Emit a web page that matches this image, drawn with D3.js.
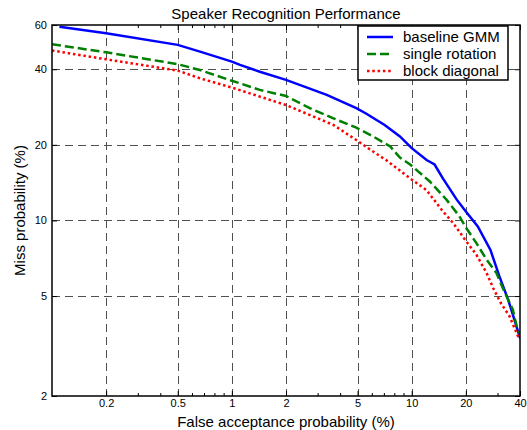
<!DOCTYPE html>
<html>
<head>
<meta charset="utf-8">
<script src="https://cdn.jsdelivr.net/npm/d3@7"></script>
<style>
  body { margin: 0; background: #fff; }
  text { font-family: "Liberation Sans", Arial, sans-serif; }
</style>
</head>
<body>
<svg id="chart" width="527" height="430"></svg>
<script>
// DET curves (false acceptance %, miss %)
const baselineFa = [0.11, 0.2, 0.5, 0.665, 1.0, 1.11, 1.43, 2.0, 3.37, 4.92, 5.6, 7.07, 8.6, 10, 12.1, 13.4, 14.9, 17.8, 20.1, 23.3, 27.4, 30.7, 34.4, 38.7, 40];
const baselineMiss = [59.1, 55.6, 50.0, 47.0, 42.9, 41.6, 39.1, 36.3, 31.6, 28.0, 26.6, 24.0, 21.6, 19.4, 17.4, 16.7, 14.7, 12.1, 10.8, 9.46, 7.63, 6.0, 4.83, 3.68, 3.4];

const rotationFa = [0.1, 0.2, 0.5, 0.665, 1.0, 1.43, 2.0, 2.71, 3.67, 4.92, 6.1, 7.6, 8.6, 9.8, 12.6, 15.6, 18.4, 20.1, 22.9, 26.1, 29.6, 33.0, 36.5, 38.7, 40];
const rotationMiss = [50.3, 46.7, 41.9, 39.7, 36.0, 33.1, 31.3, 28.0, 25.5, 23.4, 21.6, 19.7, 17.8, 16.7, 14.3, 12.1, 10.4, 9.33, 8.12, 6.97, 6.17, 5.14, 4.41, 3.68, 3.55];

const blockFa = [0.1, 0.2, 0.5, 0.665, 1.0, 2.0, 2.71, 3.67, 4.92, 6.1, 7.2, 9.8, 12.1, 14.7, 17.0, 19.8, 22.9, 26.1, 28.4, 31.3, 35, 38.7, 40];
const blockMiss = [47.5, 43.8, 39.5, 36.8, 33.8, 28.8, 26.3, 24.0, 20.9, 18.8, 17.4, 14.7, 13.2, 11.0, 9.76, 8.38, 7.3, 6.17, 5.37, 4.69, 4.15, 3.5, 3.35];

const seriesNames = ['baseline GMM', 'single rotation', 'block diagonal'];
const xTicks = [0.2, 0.5, 1, 2, 5, 10, 20, 40];
const xMinorTicks = [0.3, 0.4, 0.6, 0.7, 0.8, 0.9, 3, 4, 6, 7, 8, 9, 30];
const yTicks = [2, 5, 10, 20, 40, 60];

const margin = { left: 52, right: 7, top: 25, bottom: 34 };
const width = 527, height = 430;
const svg = d3.select('#chart');

const x = d3.scaleLog().domain([0.1, 40]).range([margin.left, width - margin.right]);
const y = d3.scaleLog().domain([2, 60]).range([height - margin.bottom, margin.top]);

const series = [
  { name: seriesNames[0], fa: baselineFa, miss: baselineMiss, color: '#0000ff', dash: null },
  { name: seriesNames[1], fa: rotationFa, miss: rotationMiss, color: '#008000', dash: '9,4' },
  { name: seriesNames[2], fa: blockFa, miss: blockMiss, color: '#ff0000', dash: '2.5,2.8' }
];

// dashed grid
const grid = svg.append('g').attr('stroke', '#505050').attr('stroke-width', 1)
  .attr('stroke-dasharray', '8,5');
grid.selectAll('.vg').data(xTicks.filter(d => d < 40)).enter().append('line')
  .attr('x1', d => Math.round(x(d)) + 0.5).attr('x2', d => Math.round(x(d)) + 0.5)
  .attr('y1', y(60)).attr('y2', y(2));
grid.selectAll('.hg').data(yTicks.filter(d => d > 2 && d < 60)).enter().append('line')
  .attr('y1', d => Math.round(y(d)) + 0.5).attr('y2', d => Math.round(y(d)) + 0.5)
  .attr('x1', x(0.1)).attr('x2', x(40));

// curves
svg.append('clipPath').attr('id', 'clip').append('rect')
  .attr('x', x(0.1)).attr('y', y(60)).attr('width', x(40) - x(0.1)).attr('height', y(2) - y(60));
const line = d3.line().x(d => x(d[0])).y(d => y(d[1]));
svg.append('g').attr('clip-path', 'url(#clip)')
  .selectAll('path').data(series).enter().append('path')
  .attr('d', s => line(s.fa.map((f, i) => [f, s.miss[i]])))
  .attr('fill', 'none')
  .attr('stroke', s => s.color)
  .attr('stroke-width', 2.5)
  .attr('stroke-dasharray', s => s.dash);

// axes, ticks pointing inward
const fmt = d => String(d);
svg.append('g').attr('transform', `translate(0,${y(2)})`)
  .call(d3.axisBottom(x).tickValues(xTicks).tickSize(-5).tickPadding(3).tickFormat(fmt));
svg.append('g').attr('transform', `translate(0,${y(2)})`)
  .call(d3.axisBottom(x).tickValues(xMinorTicks).tickSize(-3).tickFormat(''));
svg.append('g').attr('transform', `translate(0,${y(60)})`)
  .call(d3.axisTop(x).tickValues(xTicks).tickSize(-5).tickFormat(''));
svg.append('g').attr('transform', `translate(0,${y(60)})`)
  .call(d3.axisTop(x).tickValues(xMinorTicks).tickSize(-3).tickFormat(''));
svg.append('g').attr('transform', `translate(${x(0.1)},0)`)
  .call(d3.axisLeft(y).tickValues(yTicks).tickSize(-5).tickPadding(5).tickFormat(fmt));
svg.append('g').attr('transform', `translate(${x(40)},0)`)
  .call(d3.axisRight(y).tickValues(yTicks).tickSize(-5).tickFormat(''));
svg.selectAll('.domain').remove();
svg.selectAll('.tick line').attr('stroke', '#000');
svg.selectAll('.tick text').attr('font-size', 11).attr('font-family', '"Liberation Sans", Arial, sans-serif')
  .attr('fill', '#000');

svg.append('rect')
  .attr('x', x(0.1)).attr('y', y(60)).attr('width', x(40) - x(0.1)).attr('height', y(2) - y(60))
  .attr('fill', 'none').attr('stroke', '#000').attr('stroke-width', 1.5);

// labels
svg.append('text').attr('x', (x(0.1) + x(40)) / 2).attr('y', 18.5).attr('text-anchor', 'middle')
  .attr('font-size', 15).text('Speaker Recognition Performance');
svg.append('text').attr('x', (x(0.1) + x(40)) / 2).attr('y', 427).attr('text-anchor', 'middle')
  .attr('font-size', 15).text('False acceptance probability (%)');
svg.append('text').attr('transform', `translate(25,${(y(2) + y(60)) / 2}) rotate(-90)`)
  .attr('text-anchor', 'middle').attr('font-size', 15).text('Miss probability (%)');

// legend
const lg = svg.append('g').attr('transform', 'translate(358,26)');
lg.append('rect').attr('width', 150).attr('height', 54)
  .attr('fill', '#fff').attr('stroke', '#000').attr('stroke-width', 1.5);
const items = lg.selectAll('.item').data(series).enter().append('g')
  .attr('transform', (d, i) => `translate(0,${11 + i * 17})`);
items.append('line').attr('x1', 9).attr('x2', 35)
  .attr('stroke', d => d.color).attr('stroke-width', 2.5).attr('stroke-dasharray', d => d.dash);
items.append('text').attr('x', 45).attr('dy', '0.35em').attr('font-size', 15).text(d => d.name);
</script>
</body>
</html>
